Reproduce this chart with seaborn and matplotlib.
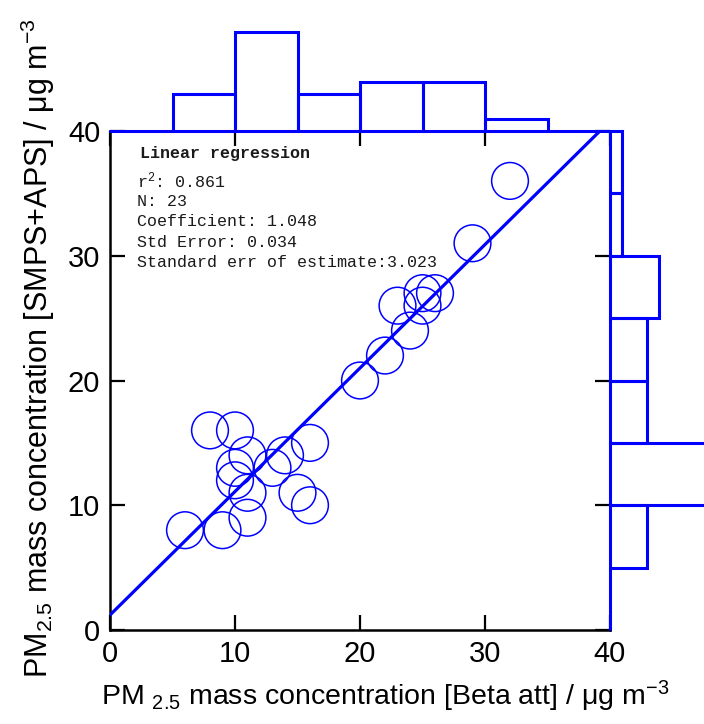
import numpy as np
import pandas as pd
import matplotlib
matplotlib.use("Agg")
import matplotlib.pyplot as plt
import seaborn as sns

# PM2.5 Beta attenuation vs SMPS+APS
beta_att = [8, 10, 11, 14, 16, 10, 13, 10, 11, 15, 16, 6, 9, 11,
            32, 29, 20, 22, 24, 23, 25, 25, 26]
smps_aps = [16, 16, 14, 14, 15, 13, 13, 12, 11, 11, 10, 8, 8, 9,
            36, 31, 20, 22, 24, 26, 27, 26, 27]

# fitted line as drawn in the picture
fit_intercept = 1.2
fit_slope = 0.99

stats_title = "Linear regression"
stats_lines = ["r$^2$: 0.861", "N: 23", "Coefficient: 1.048",
               "Std Error: 0.034", "Standard err of estimate:3.023"]

ticks = [0, 10, 20, 30, 40]
hist_bins = [0, 5, 10, 15, 20, 25, 30, 35, 40]

df = pd.DataFrame({"beta": beta_att, "smps": smps_aps})

BLUE = "#0000ff"

sns.set_style("ticks")
plt.rcParams["font.family"] = ["Liberation Sans", "DejaVu Sans"]
plt.rcParams["mathtext.default"] = "regular"
for key in ["text.color", "axes.labelcolor", "xtick.color", "ytick.color"]:
    plt.rcParams[key] = "black"

W, H = 704, 724
fig = plt.figure(figsize=(W / 100, H / 100), dpi=100)

ax = fig.add_axes([110 / W, 94 / H, 500 / W, 499 / H])
ax_top = fig.add_axes([110 / W, 593 / H, 500 / W, 131 / H])
ax_right = fig.add_axes([610 / W, 94 / H, 94 / W, 499 / H])

# main scatter
sns.scatterplot(data=df, x="beta", y="smps", ax=ax, s=700, marker="o",
                facecolor="none", edgecolor=BLUE, linewidth=1.1, zorder=3)
ax.axline((0, fit_intercept), slope=fit_slope, color=BLUE, lw=2.3, zorder=4)

ax.set_xlim(0, 40)
ax.set_ylim(0, 40)
ax.set_xticks(ticks)
ax.set_yticks(ticks)
ax.tick_params(direction="in", length=11, width=1.6, labelsize=21,
               top=True, right=True, pad=7, colors="black")
for side in ["left", "bottom"]:
    ax.spines[side].set_color("black")
    ax.spines[side].set_linewidth(1.8)
for side in ["top", "right"]:
    ax.spines[side].set_color(BLUE)
    ax.spines[side].set_linewidth(1.8)

ax.set_xlabel(r"PM $_{2.5}$ mass concentration [Beta att] / $\mu$g m$^{-3}$",
              fontsize=20.5)
ax.set_ylabel(r"PM$_{2.5}$ mass concentration [SMPS+APS] / $\mu$g m$^{-3}$",
              fontsize=22)
ax.xaxis.set_label_coords(0.55, -0.097)
ax.yaxis.set_label_coords(-0.106, 0.565)

# regression summary
ax.text(0.06, 0.955, stats_title, transform=ax.transAxes, family="Liberation Mono",
        fontsize=12, fontweight="bold", color="#1a1a1a", va="center")
for i, line in enumerate(stats_lines):
    ax.text(0.054, 0.9 - i * 0.041, line, transform=ax.transAxes,
            family="Liberation Mono", fontsize=12, color="#1a1a1a", va="center")

# marginal histograms
sns.histplot(data=df, x="beta", bins=hist_bins, ax=ax_top, fill=False,
             color=BLUE, linewidth=2.2, element="bars")
sns.histplot(data=df, y="smps", bins=hist_bins, ax=ax_right, fill=False,
             color=BLUE, linewidth=2.2, element="bars")
for p in ax_top.patches:
    p.set_clip_on(False)

ax_top.set_xlim(0, 40)
ax_top.set_ylim(0, 10.6)
ax_right.set_ylim(0, 40)
ax_right.set_xlim(0, 7.64)
for a in (ax_top, ax_right):
    a.set_axis_off()
# the right panel clips the long bar at the figure edge
for p in ax_right.patches:
    p.set_clip_on(True)
    p.set_clip_box(fig.bbox)

fig.savefig("out.png", dpi=100)
